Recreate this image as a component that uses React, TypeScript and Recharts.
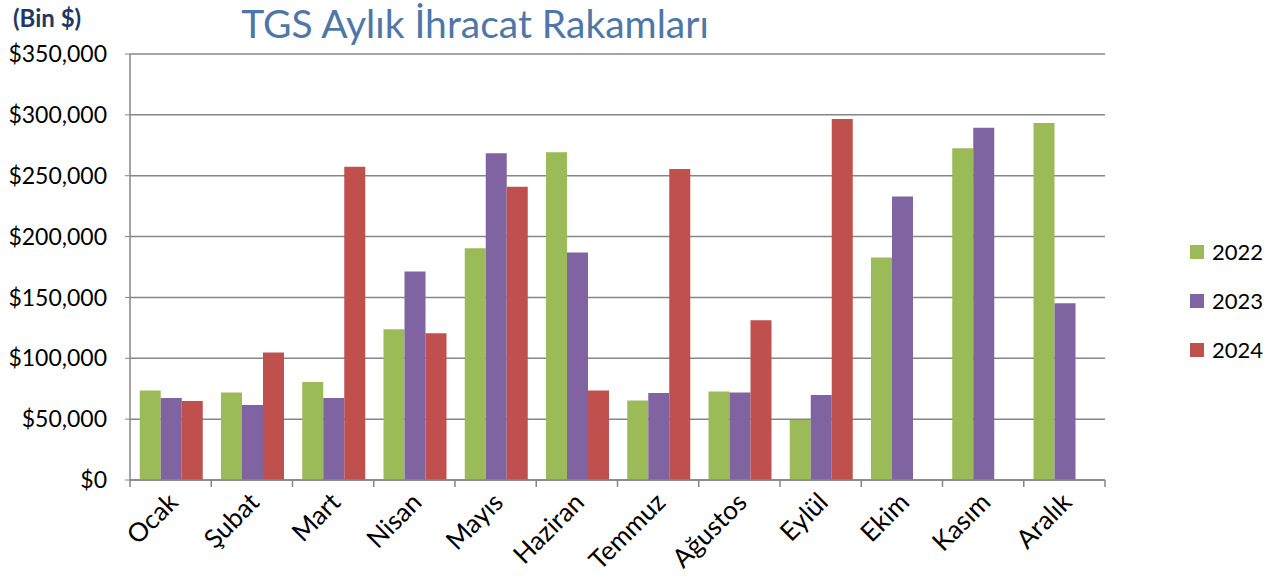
import React from "react";
import {
  BarChart,
  Bar,
  XAxis,
  YAxis,
  CartesianGrid,
} from "recharts";

// months (Turkish)
const months = [
  "Ocak",
  "Şubat",
  "Mart",
  "Nisan",
  "Mayıs",
  "Haziran",
  "Temmuz",
  "Ağustos",
  "Eylül",
  "Ekim",
  "Kasım",
  "Aralık",
];

// values in thousand $
const exports2022 = [73500, 71900, 80600, 123900, 190500, 269200, 65300, 72700, 49300, 182900, 272500, 293300];
const exports2023 = [67400, 61700, 67400, 171300, 268400, 187000, 71500, 71900, 69900, 233000, 289400, 145300];
const exports2024 = [65000, 104700, 257300, 120600, 240900, 73500, 255500, 131300, 296600, null, null, null];

const yTicks = [0, 50000, 100000, 150000, 200000, 250000, 300000, 350000];

const seriesInfo = [
  { key: "y2022", name: "2022", color: "#9bbb59" },
  { key: "y2023", name: "2023", color: "#8064a2" },
  { key: "y2024", name: "2024", color: "#c0504d" },
];

const FONT = "Lato, 'Open Sans', sans-serif";

const chartData = months.map((m, i) => ({
  month: m,
  y2022: exports2022[i],
  y2023: exports2023[i],
  y2024: exports2024[i],
}));

const formatMoney = (v: number) => "$" + v.toLocaleString("en-US");

const MonthTick = (props: any) => {
  const { x, y, payload, index } = props;
  const half = 81.25 / 2;
  return (
    <g>
      <line x1={x - half} y1={y - 8} x2={x - half} y2={y - 1} stroke="#868686" strokeWidth={1.5} />
      {index === months.length - 1 && (
        <line x1={x + half} y1={y - 8} x2={x + half} y2={y - 1} stroke="#868686" strokeWidth={1.5} />
      )}
      <text
        x={x + 9}
        y={y + 16}
        textAnchor="end"
        transform={`rotate(-45, ${x + 9}, ${y + 16})`}
        fontSize={26}
        fontFamily={FONT}
        fill="#000"
      >
        {payload.value}
      </text>
    </g>
  );
};

const LegendBox = () => (
  <div style={{ fontFamily: FONT, fontSize: 22, color: "#000" }}>
    {seriesInfo.map((s) => (
      <div key={s.key} style={{ display: "flex", alignItems: "center", height: 49 }}>
        <span style={{ width: 14, height: 14, background: s.color, display: "inline-block", marginRight: 8 }} />
        <span>{s.name}</span>
      </div>
    ))}
  </div>
);

export default function App() {
  return (
    <div style={{ position: "absolute", left: 0, top: 0, width: 1281, height: 580, background: "#fff" }}>
      <div
        style={{
          position: "absolute",
          left: 13,
          top: 3,
          fontFamily: FONT,
          fontWeight: 700,
          fontSize: 24,
          color: "#1f3864",
        }}
      >
        (Bin $)
      </div>
      <div
        style={{
          position: "absolute",
          left: 225,
          top: 0,
          width: 500,
          textAlign: "center",
          fontFamily: FONT,
          fontSize: 39,
          color: "#4f76a8",
          whiteSpace: "nowrap",
        }}
      >
        TGS Aylık İhracat Rakamları
      </div>
      <div style={{ position: "absolute", left: 1190, top: 227 }}>
        <LegendBox />
      </div>
      <BarChart
        width={1281}
        height={580}
        data={chartData}
        margin={{ top: 54, right: 176, left: 10, bottom: 0 }}
        barCategoryGap="12%"
        barGap={0}
      >
        <CartesianGrid vertical={false} stroke="#868686" strokeWidth={1.5} />
        <XAxis
          dataKey="month"
          height={100}
          interval={0}
          tick={<MonthTick />}
          tickLine={false}
          axisLine={{ stroke: "#868686", strokeWidth: 1.5 }}
        />
        <YAxis
          width={120}
          domain={[0, 350000]}
          ticks={yTicks}
          tickFormatter={formatMoney}
          tick={{ fontSize: 23, fontFamily: FONT, fill: "#000" }}
          tickLine={{ stroke: "#868686" }}
          tickSize={5}
          tickMargin={18}
          axisLine={{ stroke: "#868686", strokeWidth: 1.5 }}
        />
        {seriesInfo.map((s) => (
          <Bar key={s.key} dataKey={s.key} name={s.name} fill={s.color} isAnimationActive={false} />
        ))}
      </BarChart>
    </div>
  );
}
